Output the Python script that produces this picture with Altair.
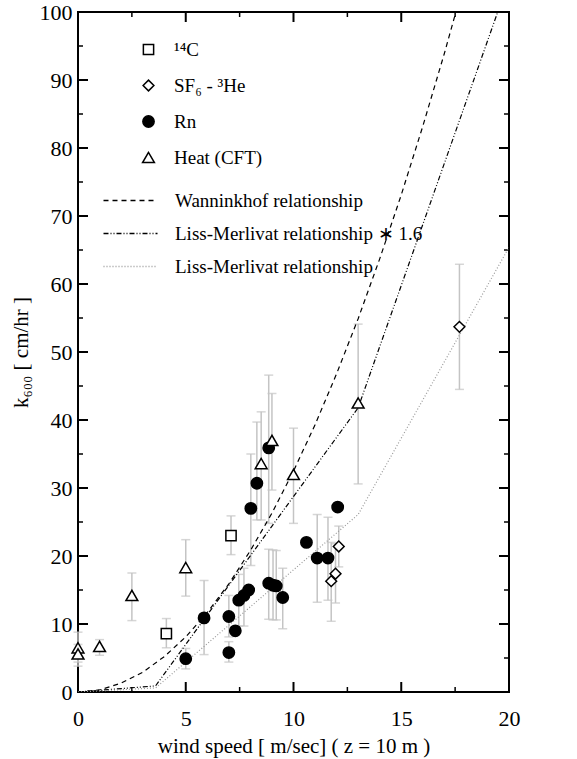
import altair as alt
import pandas as pd

FONT = "Times New Roman, Liberation Serif, serif"
W, H = 431, 680

# ---- data ----
c14_u = [4.1, 7.1]
c14_k = [8.6, 23.0]
c14_lo = [6.5, 20.2]
c14_hi = [10.8, 25.9]

sf6_u = [11.75, 11.95, 12.1, 17.7]
sf6_k = [16.3, 17.4, 21.4, 53.7]
sf6_lo = [10.4, 13.1, 18.4, 44.5]
sf6_hi = [22.0, 21.8, 24.4, 62.9]

rn_u = [5.0, 5.85, 7.0, 7.0, 7.3, 7.46, 7.7, 7.92, 8.02, 8.3, 8.85, 8.85, 9.05, 9.2, 9.5, 10.6, 11.1, 11.6, 12.05]
rn_k = [4.9, 10.9, 11.1, 5.8, 9.0, 13.5, 14.2, 15.0, 27.0, 30.7, 35.9, 16.0, 15.7, 15.6, 13.9, 22.0, 19.7, 19.7, 27.2]
rn_lo = [3.4, 5.5, 8.1, 4.4, None, 9.7, 9.7, None, 18.6, 25.3, 24.8, 10.7, 10.6, 10.6, 9.3, None, 13.2, 13.5, None]
rn_hi = [6.4, 16.4, 14.2, 7.4, None, 17.3, 18.2, None, 35.0, 39.7, 46.6, 21.0, 20.9, 20.8, 18.2, None, 26.1, 25.7, None]

heat_u = [0.0, 0.0, 1.0, 2.5, 5.0, 8.5, 9.0, 10.0, 13.0]
heat_k = [6.5, 5.6, 6.7, 14.2, 18.3, 33.6, 37.0, 32.0, 42.5]
heat_lo = [4.4, 3.8, 5.4, 10.5, 14.1, 25.3, 29.7, 24.8, 30.6]
heat_hi = [8.8, 7.0, 7.7, 17.5, 22.4, 41.2, 43.9, 38.8, 54.1]

wann_u = [0, 1, 2, 3, 4, 5, 6, 7, 8, 9, 10, 11, 12, 13, 14, 15, 16, 17, 18]
wann_k = [0.0, 0.3, 1.3, 2.9, 5.2, 8.1, 11.7, 15.9, 20.8, 26.3, 32.5, 39.3, 46.8, 54.9, 63.7, 73.1, 83.2, 93.9, 105.3]
lm_u = [0.0, 3.6, 13.0, 20.0]
lm_k = [0.0, 0.6, 26.1, 65.4]
lm16_k = [0.0, 0.9, 41.8, 104.7]

methods = ["\u00b9\u2074C", "SF\u2086 - \u00b3He", "Rn", "Heat (CFT)"]
relations = ["Wanninkhof relationship",
             "Liss-Merlivat relationship \u2217 1.6",
             "Liss-Merlivat relationship"]

x_major = [0, 5, 10, 15, 20]
x_minor = [2.5, 7.5, 12.5, 17.5]
y_major = [0, 10, 20, 30, 40, 50, 60, 70, 80, 90, 100]
y_minor = [5, 15, 25, 35, 45, 55, 65, 75, 85, 95]

# ---- tables ----
def block(u, k, lo, hi, name):
    return pd.DataFrame({"u": u, "k": k, "lo": lo, "hi": hi, "method": name})

pts = pd.concat([
    block(c14_u, c14_k, c14_lo, c14_hi, methods[0]),
    block(sf6_u, sf6_k, sf6_lo, sf6_hi, methods[1]),
    block(rn_u, rn_k, rn_lo, rn_hi, methods[2]),
    block(heat_u, heat_k, heat_lo, heat_hi, methods[3]),
], ignore_index=True)
err = pts.dropna(subset=["lo", "hi"]).copy()

lines = pd.concat([
    pd.DataFrame({"u": wann_u, "k": wann_k, "relation": relations[0]}),
    pd.DataFrame({"u": lm_u, "k": lm16_k, "relation": relations[1]}),
    pd.DataFrame({"u": lm_u, "k": lm_k, "relation": relations[2]}),
], ignore_index=True)

xs = alt.Scale(domain=[0, 20], nice=False, zero=False)
ys = alt.Scale(domain=[0, 100], nice=False, zero=False)

ax_x = alt.Axis(values=x_major, ticks=False, tickSize=0, domain=False, grid=False,
                labelPadding=16, labelFontSize=22, labelFlush=False,
                title="wind speed [ m/sec] ( z = 10 m )", titleFontSize=21, titlePadding=6)
ax_y = alt.Axis(values=y_major, ticks=False, tickSize=0, domain=False, grid=False,
                labelPadding=6, labelFontSize=22, labelFlush=False,
                title="k\u2086\u2080\u2080 [ cm/hr ]", titleFontSize=21, titlePadding=8)


def X(field):
    return alt.X(field, scale=xs, axis=ax_x)


def Y(field):
    return alt.Y(field, scale=ys, axis=ax_y)


# ---- inward tick marks (positions from the tick value lists) ----
MAJ, MIN = 10, 5


def xticks(vals, y0, y1, w):
    return alt.Chart(pd.DataFrame({"u": vals})).mark_rule(color="black", strokeWidth=w).encode(
        x=X("u:Q"), y=alt.value(y0), y2=alt.value(y1))


def yticks(vals, x0, x1, w):
    return alt.Chart(pd.DataFrame({"k": vals})).mark_rule(color="black", strokeWidth=w).encode(
        y=Y("k:Q"), x=alt.value(x0), x2=alt.value(x1))


tick_layers = [
    xticks(x_major, H, H - MAJ, 2), xticks(x_minor, H, H - MIN, 1.5),
    xticks(x_major, 0, MAJ, 2), xticks(x_minor, 0, MIN, 1.5),
    yticks(y_major, 0, MAJ, 2), yticks(y_minor, 0, MIN, 1.5),
    yticks(y_major, W, W - MAJ, 2), yticks(y_minor, W, W - MIN, 1.5),
]

ERR = "#c4c4c4"

rules = alt.Chart(err).mark_rule(color=ERR, strokeWidth=1.5).encode(
    x=X("u:Q"), y=Y("lo:Q"), y2="hi:Q",
)
caps_lo = alt.Chart(err).mark_tick(orient="horizontal", color=ERR, size=9, thickness=1.5).encode(
    x=X("u:Q"), y=Y("lo:Q"),
)
caps_hi = alt.Chart(err).mark_tick(orient="horizontal", color=ERR, size=9, thickness=1.5).encode(
    x=X("u:Q"), y=Y("hi:Q"),
)

line_legend = alt.Legend(orient="none", legendX=38, legendY=174, title=None,
                         labelFont=FONT, labelFontSize=19, labelColor="black", labelLimit=500,
                         symbolType="M-2,0H2", symbolSize=729, symbolStrokeWidth=1.3,
                         rowPadding=8, labelOffset=30)
curves = alt.Chart(lines).mark_line(clip=True, strokeWidth=1.2).encode(
    x=X("u:Q"), y=Y("k:Q"),
    stroke=alt.Stroke("relation:N",
                      scale=alt.Scale(domain=relations, range=["black", "black", "#999999"]),
                      legend=line_legend),
    strokeDash=alt.StrokeDash("relation:N",
                              scale=alt.Scale(domain=relations,
                                              range=[[5, 4], [5, 2, 1, 2, 1, 2], [1, 2]]),
                              legend=line_legend),
    order="u:Q",
)

pt_legend = alt.Legend(orient="none", legendX=61, legendY=28, title=None,
                       labelFont=FONT, labelFontSize=19, labelColor="black", labelLimit=500,
                       symbolSize=130, symbolStrokeWidth=1.5, symbolStrokeColor="black",
                       rowPadding=16, labelOffset=16)
points = alt.Chart(pts).mark_point(filled=True, strokeWidth=1.5, opacity=1).encode(
    x=X("u:Q"), y=Y("k:Q"),
    color=alt.Color("method:N",
                    scale=alt.Scale(domain=methods, range=["white", "white", "black", "white"]),
                    legend=pt_legend),
    shape=alt.Shape("method:N",
                    scale=alt.Scale(domain=methods,
                                    range=["square", "diamond", "circle", "triangle-up"]),
                    legend=pt_legend),
    size=alt.Size("method:N",
                  scale=alt.Scale(domain=methods, range=[105, 140, 140, 165]),
                  legend=None),
    stroke=alt.value("black"),
)

chart = alt.layer(*tick_layers, rules, caps_lo, caps_hi, curves, points).properties(
    width=W, height=H,
    padding={"left": 78, "top": 12, "right": 68, "bottom": 67},
    autosize=alt.AutoSizeParams(type="none"),
    background="white",
).configure_view(
    stroke="black", strokeWidth=2
).configure_axis(
    labelColor="black", labelFont=FONT, titleFont=FONT,
    titleFontWeight="normal", titleColor="black",
)

chart.save("out.html", embed_options={"renderer": "svg", "actions": False})
